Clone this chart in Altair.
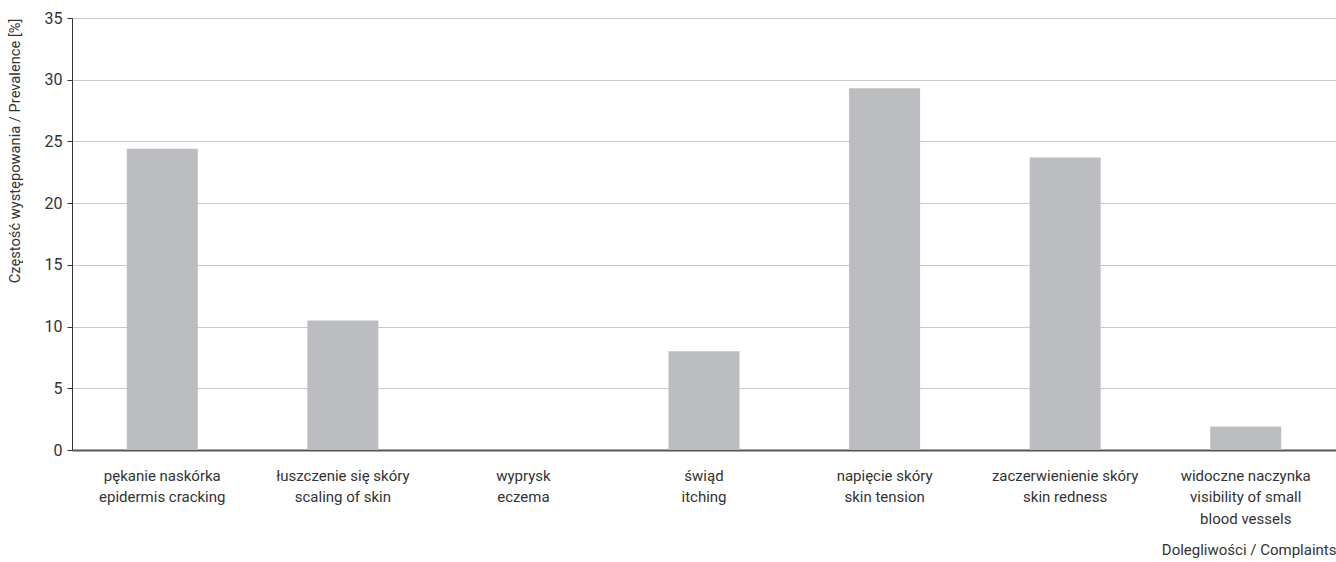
import altair as alt
import pandas as pd

categories_pl = ["pękanie naskórka", "łuszczenie się skóry", "wyprysk", "świąd",
                 "napięcie skóry", "zaczerwienienie skóry", "widoczne naczynka"]
categories_en = ["epidermis cracking", "scaling of skin", "eczema", "itching",
                 "skin tension", "skin redness", "visibility of small|blood vessels"]
values = [24.4, 10.5, 0.0, 8.0, 29.3, 23.7, 1.9]

labels = [f"{p}|{e}" for p, e in zip(categories_pl, categories_en)]
df = pd.DataFrame({"cat": labels, "val": values})

FONT = "Roboto"
TXT = "#333333"

chart = alt.Chart(df).mark_bar(width=71, color="#bcbdc1").encode(
    x=alt.X("cat:N", sort=labels,
            scale=alt.Scale(paddingInner=0, paddingOuter=0),
            axis=alt.Axis(title="Dolegliwości / Complaints", labelAngle=0,
                          labelExpr="split(datum.label, '|')",
                          labelFont=FONT, labelFontSize=15, labelColor=TXT,
                          labelLineHeight=21.5, labelPadding=18, labelBaseline="top",
                          ticks=False, domainColor="#555555", domainWidth=2,
                          titleFont=FONT, titleFontSize=15, titleFontWeight="normal",
                          titleColor=TXT, titleAnchor="end", titleAlign="right",
                          titleX=1264, titleY=99, titleBaseline="middle")),
    y=alt.Y("val:Q", scale=alt.Scale(domain=[0, 35], nice=False),
            axis=alt.Axis(title="Częstość występowania / Prevalence [%]",
                          values=[0, 5, 10, 15, 20, 25, 30, 35],
                          labelFont=FONT, labelFontSize=16, labelColor=TXT,
                          labelPadding=5, tickSize=5, tickColor="#333333",
                          domainColor="#333333", domainWidth=1,
                          gridColor="#c8c8c8", gridWidth=1.2,
                          titleFont=FONT, titleFontSize=14.7, titleFontWeight="normal",
                          titleColor=TXT, titleAngle=270, titleAlign="right",
                          titleBaseline="middle", titleX=-57, titleY=0)),
).properties(
    width=1264, height=432,
    padding={"left": 72, "top": 18, "right": 0, "bottom": 112},
    autosize=alt.AutoSizeParams(type="none"),
).configure_view(stroke=None).configure_axisX(grid=False)

chart.save("out.html", embed_options={"renderer": "svg", "actions": False})
